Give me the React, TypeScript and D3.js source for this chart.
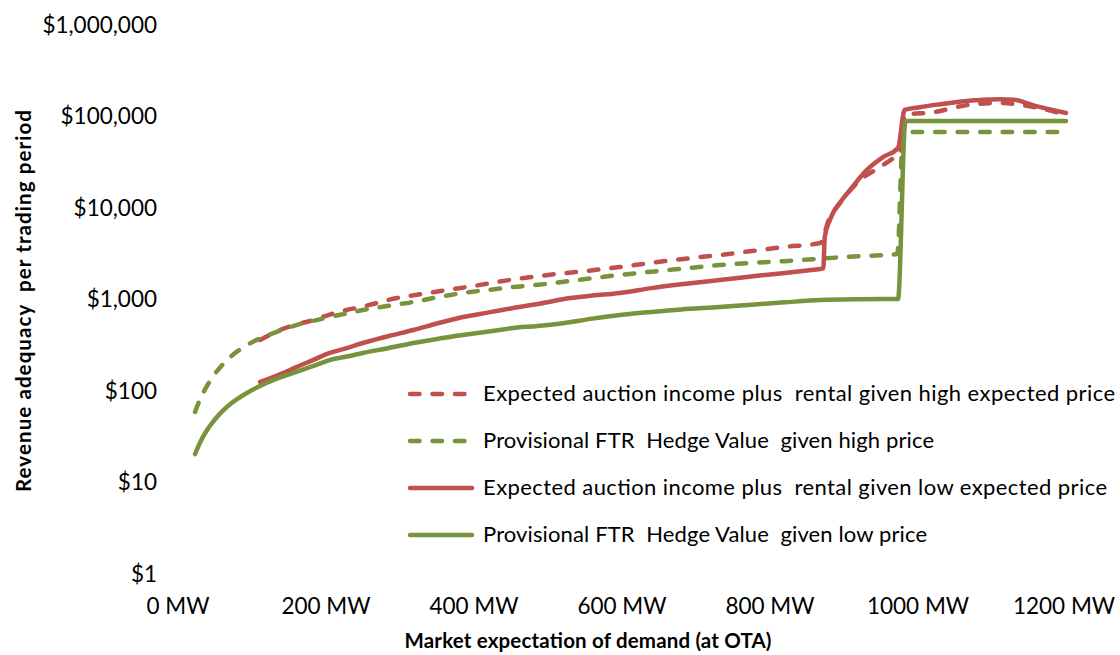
import React from "react";
import * as d3 from "d3";

// Demand levels (MW) and revenue adequacy ($ per trading period) for each series
const auctionHighMW = [111, 138, 160, 183, 205, 228, 250, 296, 330, 363, 400, 431, 462, 500, 550, 597, 640, 680, 732, 780, 820, 868, 880, 895, 922, 949, 969, 976, 982, 1020, 1066, 1111, 1155, 1200];
const auctionHighValue = [380, 488, 560, 628, 720, 807, 880, 1092, 1210, 1336, 1480, 1634, 1780, 1950, 2150, 2380, 2650, 2900, 3220, 3600, 3950, 4360, 8000, 12000, 21300, 29500, 38000, 42000, 110000, 117000, 140000, 148000, 134000, 110000];

const hedgeHighMW = [23, 30, 38, 47, 58, 70, 82, 93, 115, 138, 160, 183, 205, 228, 250, 285, 318, 350, 385, 420, 453, 490, 530, 560, 597, 640, 680, 732, 780, 820, 858, 912, 972, 980, 1200];
const hedgeHighValue = [62, 86, 115, 150, 195, 245, 292, 333, 409, 480, 553, 615, 677, 740, 807, 900, 988, 1110, 1240, 1340, 1440, 1530, 1680, 1800, 1950, 2120, 2280, 2500, 2660, 2760, 2900, 3100, 3300, 71000, 71000];

const auctionLowMW = [111, 138, 160, 183, 205, 228, 250, 285, 318, 350, 385, 420, 453, 490, 530, 560, 597, 640, 680, 732, 780, 820, 850, 868, 872, 874, 881, 897, 908, 931, 953, 973, 982, 1000, 1020, 1043, 1066, 1088, 1110, 1130, 1155, 1180, 1200];
const auctionLowValue = [132, 160, 192, 230, 274, 310, 352, 420, 488, 575, 677, 760, 849, 950, 1090, 1160, 1240, 1400, 1540, 1718, 1900, 2050, 2180, 2266, 2300, 5070, 7800, 12800, 16500, 27400, 37900, 47600, 124000, 132000, 140000, 148000, 155000, 160000, 162000, 160000, 140000, 125000, 115000];

const hedgeLowMW = [23, 30, 38, 47, 58, 70, 82, 93, 115, 140, 160, 185, 205, 230, 250, 285, 318, 350, 385, 420, 453, 486, 520, 560, 597, 640, 680, 732, 780, 820, 868, 920, 950, 973, 983, 1000, 1100, 1200];
const hedgeLowValue = [21.5, 29, 38, 48, 61, 75, 88, 100, 124, 150, 170, 200, 229, 252, 274, 310, 352, 390, 430, 470, 513, 540, 580, 650, 712, 770, 820, 870, 930, 980, 1038, 1060, 1065, 1065, 94000, 94000, 94000, 94000];

const seriesNames = [
  "Expected auction income plus  rental given high expected price",
  "Provisional FTR  Hedge Value  given high price",
  "Expected auction income plus  rental given low expected price",
  "Provisional FTR  Hedge Value  given low price",
];
const seriesColors = ["#C0504D", "#77933C", "#C0504D", "#77933C"];
const seriesDashed = [true, true, false, false];
const legendTextWidths = [632, 451, 624, 444];

const xTicks = [0, 200, 400, 600, 800, 1000, 1200];
const yTicks = [1, 10, 100, 1000, 10000, 100000, 1000000];

const xTitle = "Market expectation of demand (at OTA)";
const yTitle = "Revenue adequacy  per trading period";

const W = 1120;
const H = 655;
const FONT = "Lato, 'Open Sans', sans-serif";

export default function App() {
  const x = d3.scaleLinear().domain([0, 1200]).range([178, 1066]);
  const y = d3.scaleLog().domain([1, 1000000]).range([576, 27]);

  const series = [
    { mw: auctionHighMW, v: auctionHighValue },
    { mw: hedgeHighMW, v: hedgeHighValue },
    { mw: auctionLowMW, v: auctionLowValue },
    { mw: hedgeLowMW, v: hedgeLowValue },
  ];

  const line = d3
    .line<[number, number]>()
    .x((d) => x(d[0]))
    .y((d) => y(d[1]))
    .curve(d3.curveMonotoneX);

  const fmtY = (v: number) => "$" + d3.format(",")(v);

  const legendY = [394, 441, 488, 535];

  return (
    <svg
      width={W}
      height={H}
      style={{ position: "absolute", left: 0, top: 0, display: "block", background: "#fff" }}
      fontFamily={FONT}
    >
      <rect x={0} y={0} width={W} height={H} fill="#fff" />

      {/* y-axis tick labels */}
      {yTicks.map((t) => (
        <text key={t} x={157} y={y(t)} textAnchor="end" dominantBaseline="middle" fontSize={22.5} fill="#000">
          {fmtY(t)}
        </text>
      ))}

      {/* x-axis tick labels */}
      {xTicks.map((t) => (
        <text key={t} x={Math.min(x(t), 1064)} y={608} textAnchor="middle" dominantBaseline="middle" fontSize={22.5} fill="#000">
          {`${t} MW`}
        </text>
      ))}

      {/* axis titles */}
      <text
        x={588}
        y={643}
        textAnchor="middle"
        dominantBaseline="middle"
        fontSize={20.5}
        fontWeight="bold"
        fill="#000"
        textLength={367}
        lengthAdjust="spacing"
      >
        {xTitle}
      </text>
      <text
        transform={`translate(26,301) rotate(-90)`}
        textAnchor="middle"
        dominantBaseline="middle"
        fontSize={20.5}
        fontWeight="bold"
        fill="#000"
        textLength={382}
        lengthAdjust="spacing"
        style={{ whiteSpace: "pre" }}
      >
        {yTitle}
      </text>

      {/* series lines */}
      {series.map((s, i) => (
        <path
          key={i}
          d={line(s.mw.map((m, j) => [m, s.v[j]] as [number, number])) || ""}
          fill="none"
          stroke={seriesColors[i]}
          strokeWidth={4.5}
          strokeLinecap="round"
          strokeLinejoin="round"
          strokeDasharray={seriesDashed[i] ? "9.5 13" : undefined}
        />
      ))}

      {/* legend */}
      {seriesNames.map((name, i) => (
        <g key={name}>
          <line
            x1={410}
            x2={seriesDashed[i] ? 468 : 472}
            y1={legendY[i]}
            y2={legendY[i]}
            stroke={seriesColors[i]}
            strokeWidth={4.5}
            strokeLinecap="round"
            strokeDasharray={seriesDashed[i] ? "9.5 13" : undefined}
          />
          <text
            x={483}
            y={legendY[i] + 1}
            dominantBaseline="middle"
            fontSize={22}
            fill="#000"
            textLength={legendTextWidths[i]}
            lengthAdjust="spacing"
            style={{ whiteSpace: "pre" }}
          >
            {name}
          </text>
        </g>
      ))}
    </svg>
  );
}
